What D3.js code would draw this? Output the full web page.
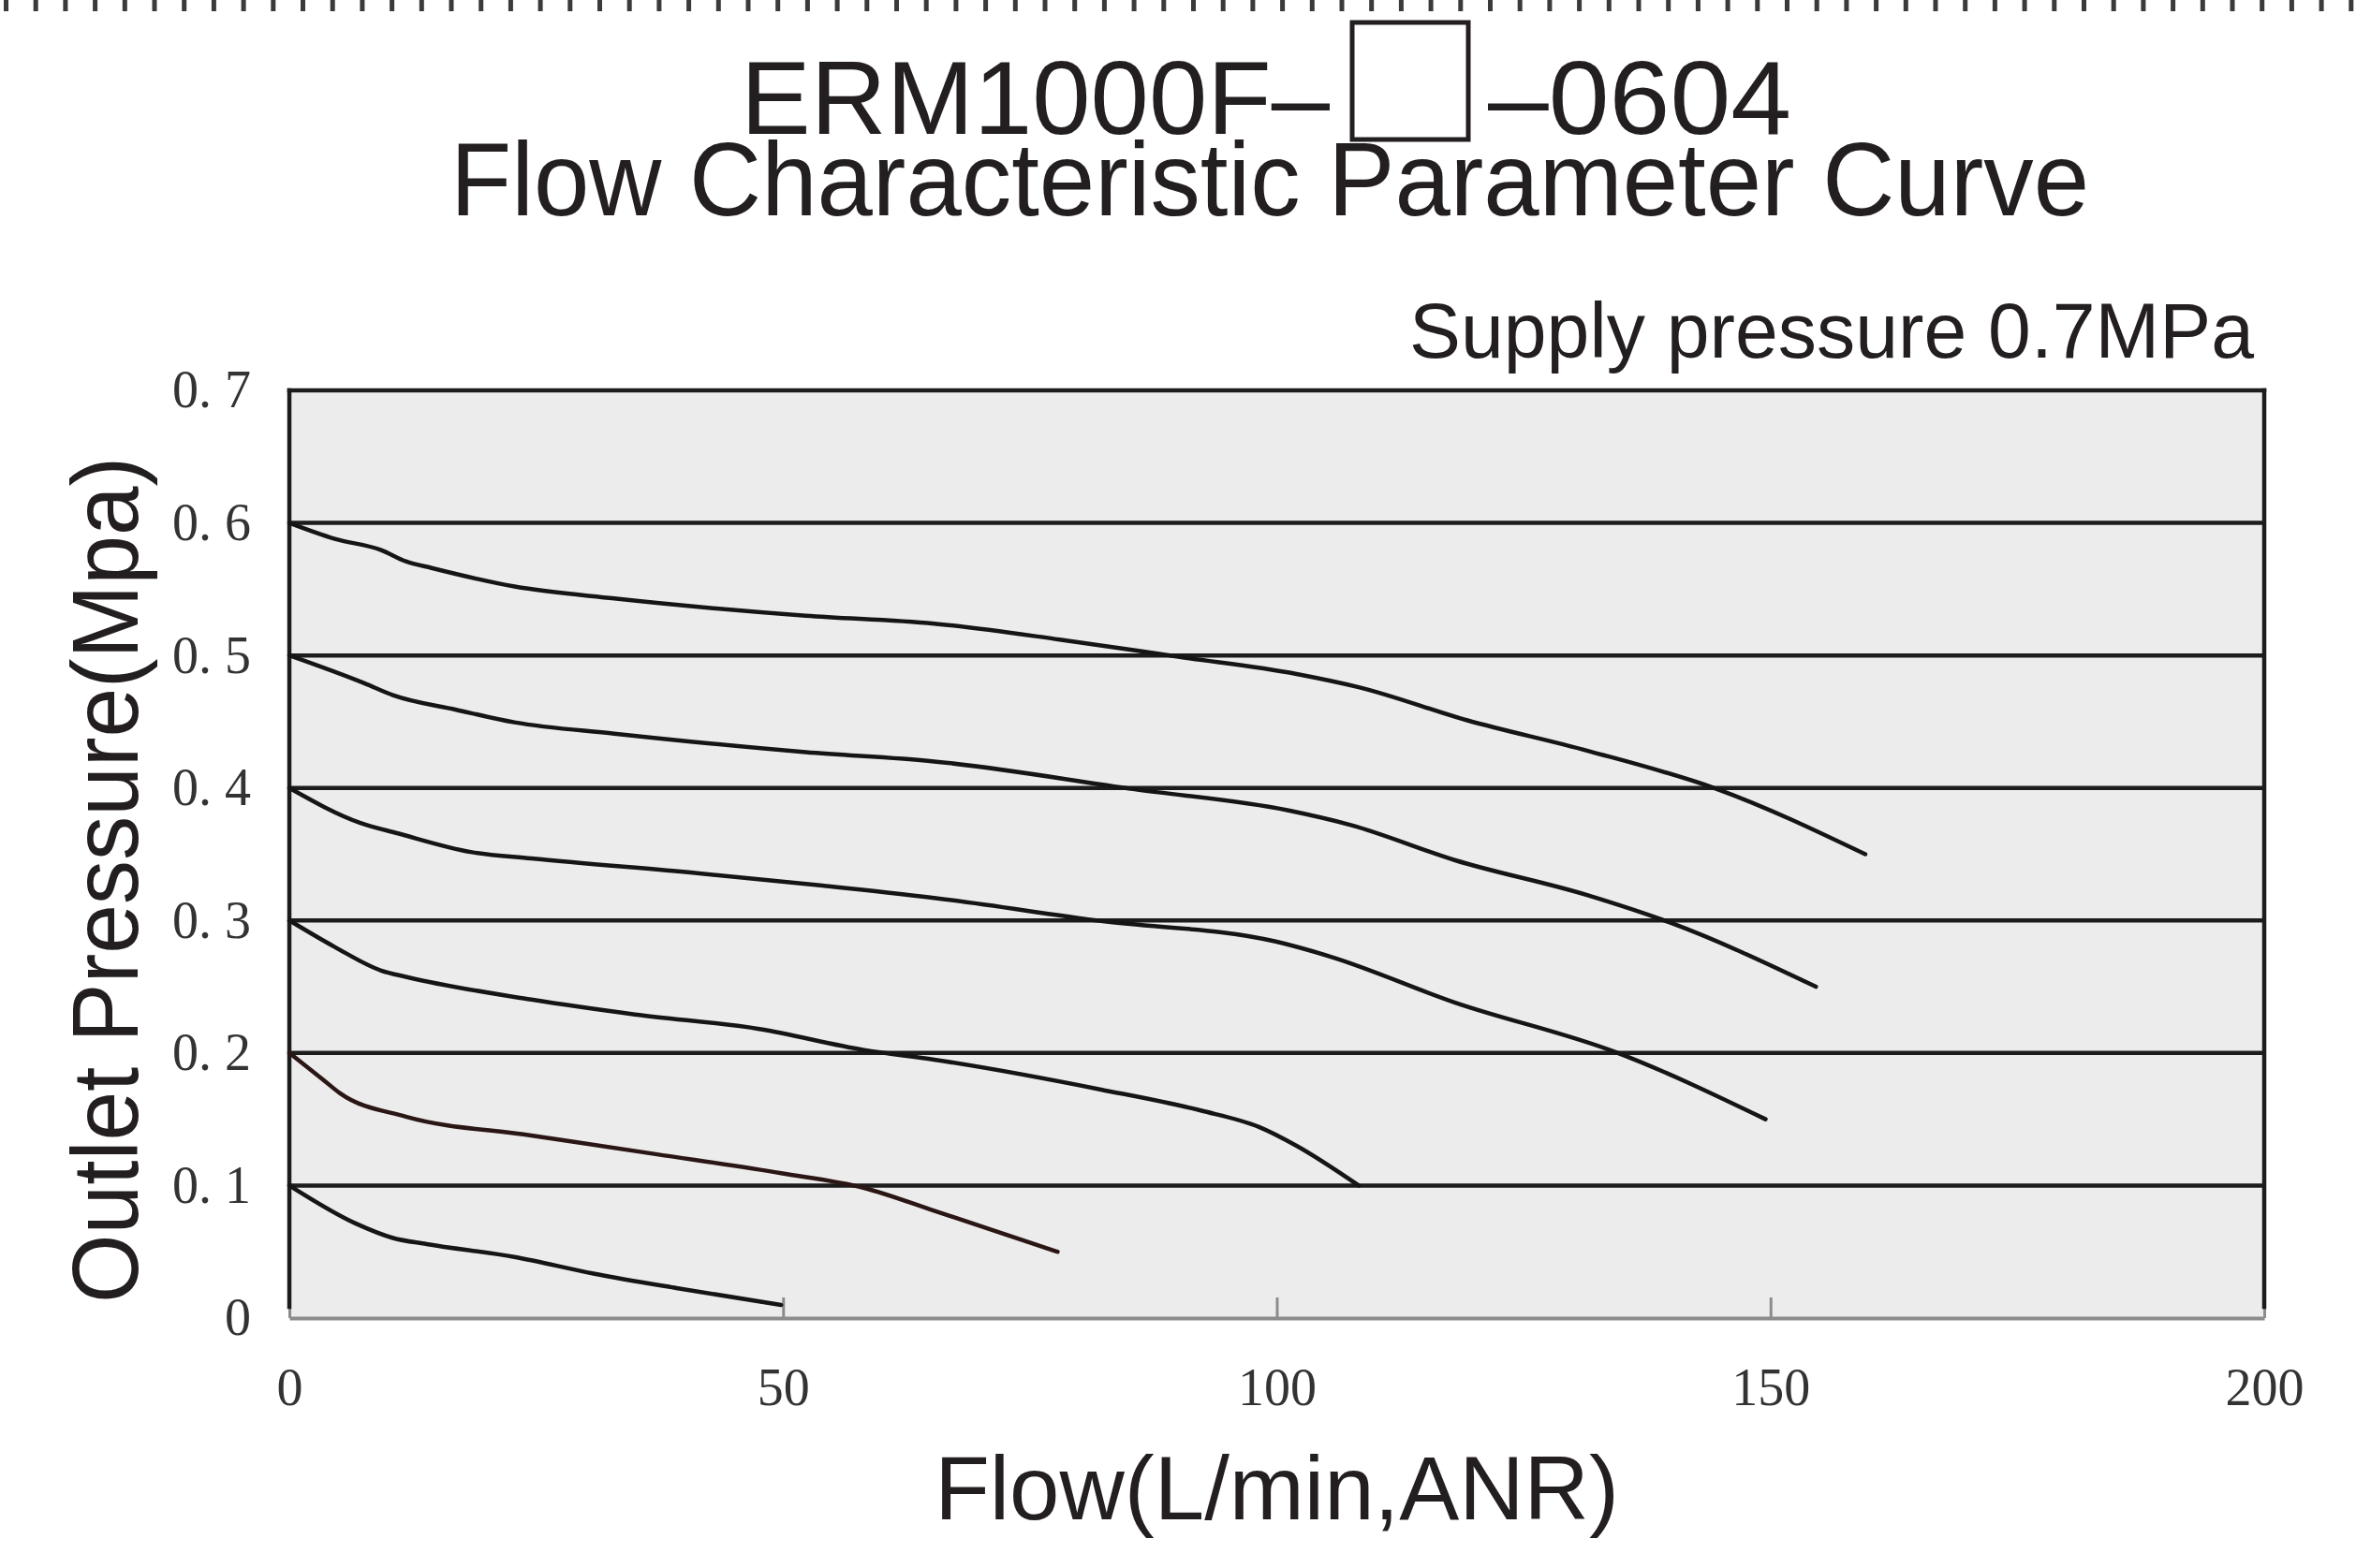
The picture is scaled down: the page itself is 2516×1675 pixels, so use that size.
<!DOCTYPE html>
<html>
<head>
<meta charset="utf-8">
<script src="https://cdn.jsdelivr.net/npm/d3@7"></script>
<style>
	body { margin: 0; background: #ffffff; }
	svg { display: block; }
</style>
</head>
<body>
<svg id="chart"></svg>
<script>
'use strict'

// flow (L/min) , outlet pressure (MPa)
var curve06 = [[0, 0.6], [4.6, 0.588], [9.3, 0.5795], [11.8, 0.571], [14.4, 0.566], [22.8, 0.552], [32.9, 0.543], [52.3, 0.530], [65.3, 0.524], [78, 0.512], [90, 0.499], [102, 0.486], [108.3, 0.476], [119.3, 0.451], [131.5, 0.428], [144.5, 0.3994], [159.6, 0.35]];
var curve05 = [[0, 0.5], [7.6, 0.479], [10.5, 0.470], [16.9, 0.459], [22.8, 0.4495], [32.9, 0.441], [52.3, 0.427], [65.3, 0.420], [85.6, 0.399], [101.2, 0.383], [107.5, 0.372], [118, 0.3456], [131.5, 0.319], [139.8, 0.2985], [154.6, 0.25]];
var curve04 = [[0, 0.4], [7.2, 0.3736], [11, 0.3657], [18.5, 0.3515], [24.5, 0.3468], [41.3, 0.3357], [54, 0.3263], [65.3, 0.317], [82.2, 0.2996], [99.9, 0.2841], [105.4, 0.2728], [118, 0.2382], [134.3, 0.2007], [149.5, 0.15]];
var curve03 = [[0, 0.3], [4.6, 0.280], [9.3, 0.2622], [11.8, 0.2575], [24.5, 0.2403], [35, 0.2291], [47.6, 0.2181], [58.2, 0.2023], [65.3, 0.195], [82.2, 0.1724], [92.3, 0.1566], [98.2, 0.1442], [102, 0.1300], [108.3, 0.1]];
var curve02 = [[0, 0.2], [3.4, 0.180], [5.1, 0.1698], [11.8, 0.152], [24.5, 0.1378], [37.1, 0.1237], [49.8, 0.1093], [58.2, 0.0982], [65.3, 0.081], [77.8, 0.05]];
var curve01 = [[0, 0.1], [6.7, 0.0714], [10.5, 0.0604], [13.9, 0.0558], [22.8, 0.0461], [30.8, 0.0336], [39.2, 0.0226], [49.8, 0.0099]];

var curves = [curve06, curve05, curve04, curve03, curve02, curve01];
var curveColors = ["#151515", "#151515", "#151515", "#151515", "#2a1614", "#151515"];

var xTicks = [0, 50, 100, 150, 200];
var yTicks = [0, 0.1, 0.2, 0.3, 0.4, 0.5, 0.6, 0.7];
var yTickLabels = ["0", "0. 1", "0. 2", "0. 3", "0. 4", "0. 5", "0. 6", "0. 7"];
var gridValues = [0.1, 0.2, 0.3, 0.4, 0.5, 0.6];

var Main = function () {

	var WIDTH = 2516,
		HEIGHT = 1675;

	var left = 309,
		right = 2418,
		top = 417,
		bottom = 1408;

	this.initialize = function () {

		var svg = d3.select("#chart")
			.attr("width", WIDTH)
			.attr("height", HEIGHT)

		// dotted cut line along the very top
		svg.append("line")
			.attr("x1", 4).attr("x2", WIDTH)
			.attr("y1", 6).attr("y2", 6)
			.style("stroke", "#3a3a3a")
			.style("stroke-width", 12)
			.style("stroke-dasharray", "5,26.7")

		var x = d3.scaleLinear().domain([0, 200]).range([left, right]);
		var y = d3.scaleLinear().domain([0, 0.7]).range([bottom, top]);

		svg.append("rect")
			.attr("x", x(0))
			.attr("y", y(0.7))
			.attr("width", x(200) - x(0))
			.attr("height", y(0) - y(0.7))
			.style("fill", "#ececec")

		// horizontal grid lines
		svg.append("g").selectAll("line")
			.data(gridValues)
			.enter().append("line")
			.attr("x1", x(0)).attr("x2", x(200))
			.attr("y1", function (d) { return y(d) })
			.attr("y2", function (d) { return y(d) })
			.style("stroke", "#1c1c1c")
			.style("stroke-width", 4.5)

		// x axis, gray, ticks pointing up into the plot
		var xAxis = svg.append("g")
			.attr("transform", "translate(0," + y(0) + ")")
			.call(d3.axisBottom(x)
				.tickValues(xTicks)
				.tickSizeInner(-22)
				.tickSizeOuter(0)
				.tickPadding(53)
				.tickFormat(d3.format("d")))

		xAxis.select(".domain")
			.style("stroke", "#8c8c8c")
			.style("stroke-width", 4)
		xAxis.selectAll(".tick line")
			.style("stroke", "#8c8c8c")
			.style("stroke-width", 3)
		xAxis.selectAll("text")
			.style("font-family", "'Liberation Serif', 'DejaVu Serif', serif")
			.style("font-size", "56px")
			.style("fill", "#333")

		var yAxis = svg.append("g")
			.attr("transform", "translate(" + x(0) + ",0)")
			.call(d3.axisLeft(y)
				.tickValues(yTicks)
				.tickSize(0)
				.tickPadding(41)
				.tickFormat(function (d, i) { return yTickLabels[i] }))

		yAxis.select(".domain").remove()
		yAxis.selectAll("text")
			.style("font-family", "'Liberation Serif', 'DejaVu Serif', serif")
			.style("font-size", "56px")
			.style("fill", "#333")

		// frame: top, left, right in black
		var frame = [
			[x(0), y(0.7), x(200), y(0.7)],
			[x(0), y(0.7), x(0), y(0) - 12],
			[x(200), y(0.7), x(200), y(0) - 12]
		];
		svg.append("g").selectAll("line")
			.data(frame)
			.enter().append("line")
			.attr("x1", function (d) { return d[0] })
			.attr("y1", function (d) { return d[1] })
			.attr("x2", function (d) { return d[2] })
			.attr("y2", function (d) { return d[3] })
			.style("stroke", "#1c1c1c")
			.style("stroke-width", 4.5)
			.style("stroke-linecap", "square")

		var line = d3.line()
			.x(function (d) { return x(d[0]) })
			.y(function (d) { return y(d[1]) })
			.curve(d3.curveMonotoneX)

		svg.append("g").selectAll("path")
			.data(curves)
			.enter().append("path")
			.attr("d", line)
			.style("fill", "none")
			.style("stroke", function (d, i) { return curveColors[i] })
			.style("stroke-width", 4.5)
			.style("stroke-linejoin", "round")
			.style("stroke-linecap", "round")

		// titles
		var sans = "'Liberation Sans', Arial, Helvetica, sans-serif";

		svg.append("text")
			.attr("x", 791)
			.attr("y", 143)
			.attr("textLength", 629)
			.attr("lengthAdjust", "spacingAndGlyphs")
			.style("font-family", sans)
			.style("font-size", "112px")
			.style("fill", "#231f20")
			.text("ERM1000F\u2013")

		svg.append("rect")
			.attr("x", 1444)
			.attr("y", 24)
			.attr("width", 124)
			.attr("height", 125)
			.style("fill", "none")
			.style("stroke", "#231f20")
			.style("stroke-width", 5)

		svg.append("text")
			.attr("x", 1589)
			.attr("y", 143)
			.attr("textLength", 324)
			.attr("lengthAdjust", "spacingAndGlyphs")
			.style("font-family", sans)
			.style("font-size", "112px")
			.style("fill", "#231f20")
			.text("\u20130604")

		svg.append("text")
			.attr("x", 481)
			.attr("y", 230)
			.attr("textLength", 1750)
			.attr("lengthAdjust", "spacingAndGlyphs")
			.style("font-family", sans)
			.style("font-size", "112px")
			.style("fill", "#231f20")
			.text("Flow Characteristic Parameter Curve")

		svg.append("text")
			.attr("x", 2407)
			.attr("y", 382)
			.attr("text-anchor", "end")
			.attr("textLength", 902)
			.attr("lengthAdjust", "spacingAndGlyphs")
			.style("font-family", sans)
			.style("font-size", "84px")
			.style("fill", "#231f20")
			.text("Supply pressure 0.7MPa")

		svg.append("text")
			.attr("x", (x(0) + x(200)) / 2)
			.attr("y", 1623)
			.attr("text-anchor", "middle")
			.style("font-family", sans)
			.style("font-size", "96px")
			.style("fill", "#231f20")
			.text("Flow(L/min,ANR)")

		svg.append("text")
			.attr("transform", "translate(147,940) rotate(-90)")
			.attr("text-anchor", "middle")
			.attr("textLength", 904)
			.attr("lengthAdjust", "spacingAndGlyphs")
			.style("font-family", sans)
			.style("font-size", "101px")
			.style("fill", "#231f20")
			.text("Outlet Pressure(Mpa)")
	}
}

var main = new Main();
main.initialize();
</script>
</body>
</html>
